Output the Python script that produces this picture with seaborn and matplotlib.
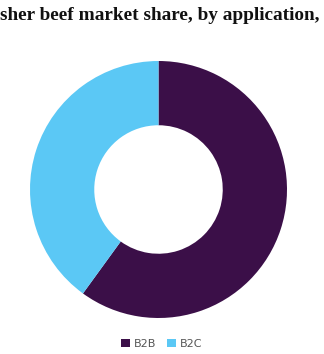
import matplotlib
matplotlib.use("Agg")
import matplotlib.pyplot as plt
from matplotlib.patches import Patch
import seaborn as sns

categories = ["B2B", "B2C"]
shares = [60, 40]
colors = ["#3b0f48", "#5bc8f5"]
title_text = "sher beef market share, by application,"

sns.set_theme(style="white")
plt.rcParams['font.family'] = ['DejaVu Sans']

W, H = 324, 354
fig = plt.figure(figsize=(W / 100, H / 100), dpi=100)
cx, cy, r = 158.5, 189.5, 128.5
ax = fig.add_axes([(cx - r) / W, 1 - (cy + r) / H, 2 * r / W, 2 * r / H])
ax.pie(shares, colors=colors, startangle=90, counterclock=False,
       radius=1, wedgeprops=dict(width=0.5, linewidth=0))
ax.set_xlim(-1, 1)
ax.set_ylim(-1, 1)
ax.set_axis_off()

fig.text(0.0, 1 - 20 / H, title_text, ha="left", va="baseline",
         fontsize=13.9, fontweight="bold", family=["Liberation Serif", "DejaVu Serif"],
         color="#111111")

handles = [Patch(facecolor=c, edgecolor="none", label=l) for c, l in zip(colors, categories)]
fig.legend(handles=handles, loc="center", bbox_to_anchor=(0.5, 1 - 344 / H), ncol=2,
           frameon=False, fontsize=8, handlelength=0.75, handleheight=0.75,
           handletextpad=0.4, columnspacing=1.0, labelcolor="#555555")

fig.savefig("out.png", dpi=100)
